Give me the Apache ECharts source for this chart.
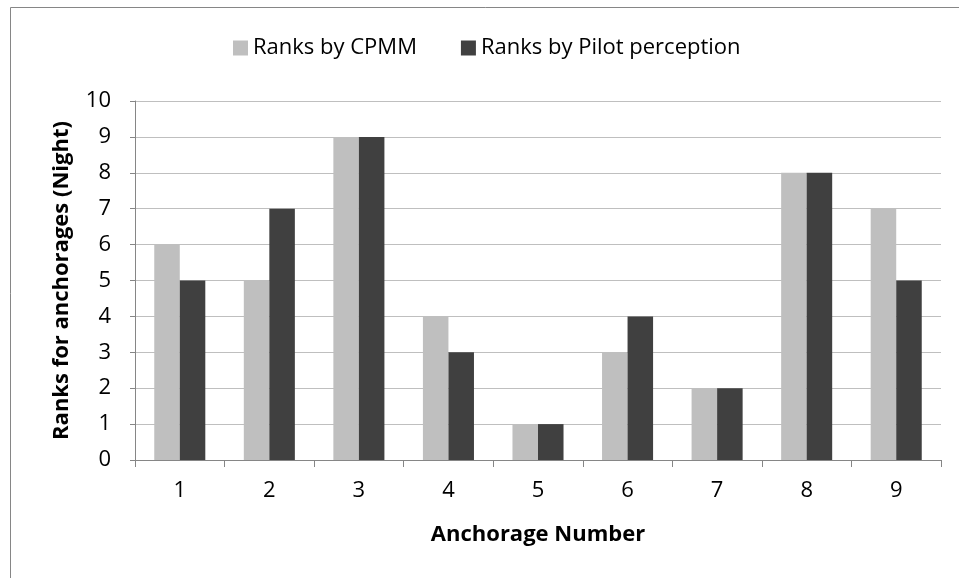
<!DOCTYPE html>
<html>
<head>
<meta charset="utf-8">
<script src="https://cdn.jsdelivr.net/npm/echarts@6/dist/echarts.min.js"></script>
<style>
  html, body { margin: 0; padding: 0; background: #fff; }
  #chart { width: 959px; height: 578px; }
</style>
</head>
<body>
<div id="chart"></div>
<script>
// anchorage numbers and ranks
const anchorages = ["1", "2", "3", "4", "5", "6", "7", "8", "9"];
const ranksCpmm = [6, 5, 9, 4, 1, 3, 2, 8, 7];
const ranksPilot = [5, 7, 9, 3, 1, 4, 2, 8, 5];

var font = "Open Sans";
var myChart = echarts.init(document.getElementById("chart"), null, { renderer: "canvas" });

var option = {
  animation: false,
  backgroundColor: "#fff",
  textStyle: { fontFamily: font },
  graphic: [
    {
      type: "rect",
      shape: { x: 10.5, y: 7.5, width: 1000, height: 1000 },
      style: { fill: "none", stroke: "#868686", lineWidth: 1 },
      silent: true,
    },
  ],
  legend: {
    top: 32,
    left: 228,
    itemWidth: 15,
    itemHeight: 15,
    itemGap: 44,
    icon: "rect",
    textStyle: { fontSize: 22, color: "#000", fontFamily: font },
  },
  grid: { left: 135, right: 18, top: 101, bottom: 118 },
  xAxis: {
    type: "category",
    data: anchorages,
    name: "Anchorage Number",
    nameLocation: "middle",
    nameGap: 64,
    nameTextStyle: { fontSize: 22, fontWeight: "bold", color: "#000" },
    axisLine: { lineStyle: { color: "#868686", width: 1 } },
    axisTick: { show: true, length: 7, lineStyle: { color: "#868686" } },
    axisLabel: { fontSize: 22, color: "#000", margin: 20 },
    splitLine: { show: false },
  },
  yAxis: {
    type: "value",
    min: 0,
    max: 10,
    interval: 1,
    name: "Ranks for anchorages (Night)",
    nameLocation: "middle",
    nameGap: 62,
    nameTextStyle: { fontSize: 22, fontWeight: "bold", color: "#000" },
    axisLine: { show: true, lineStyle: { color: "#868686", width: 1 } },
    axisTick: { show: true, length: 5, lineStyle: { color: "#868686" } },
    axisLabel: { fontSize: 22, color: "#000", margin: 24 },
    splitLine: { lineStyle: { color: "#bfbfbf", width: 1 } },
  },
  series: [
    {
      name: "Ranks by CPMM",
      type: "bar",
      data: ranksCpmm,
      barGap: "0%",
      barCategoryGap: "43%",
      itemStyle: { color: "#bfbfbf" },
    },
    {
      name: "Ranks by Pilot perception",
      type: "bar",
      data: ranksPilot,
      itemStyle: { color: "#404040" },
    },
  ],
};

myChart.setOption(option);
window.addEventListener("resize", myChart.resize);
</script>
</body>
</html>
